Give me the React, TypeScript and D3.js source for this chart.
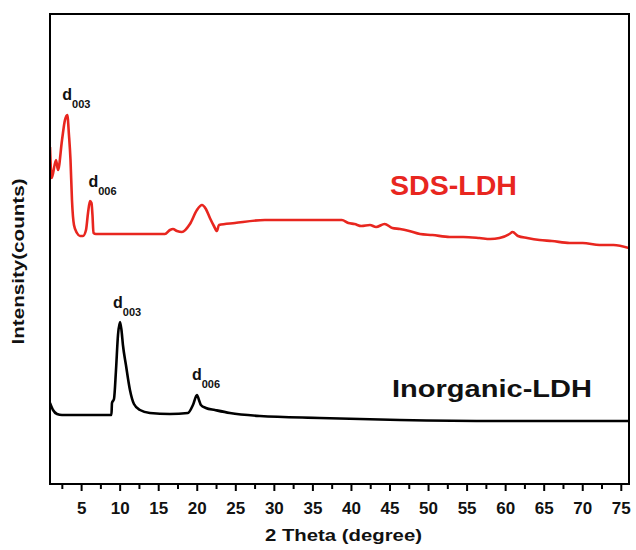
import React from "react";
import * as d3 from "d3";

// 2θ (degree) and intensity (a.u.) for the SDS-LDH pattern
const sdsTheta = [0.9, 1.12, 1.68, 1.94, 2.46, 2.84, 3.14, 3.36, 3.56, 3.75, 4.01, 4.4, 4.79, 5.18, 5.57, 5.83, 6.09, 6.28, 6.41, 6.54, 6.86, 9.0, 11.27, 13.5, 15.8, 16.46, 16.85, 17.37, 18.01, 19.05, 19.96, 20.61, 21.12, 21.64, 22.16, 22.55, 22.81, 24.88, 28.77, 33.3, 38.75, 39.6, 40.4, 41.3, 42.4, 43.2, 44.3, 45.3, 46.3, 47.5, 48.9, 50.5, 52.75, 54.5, 56.6, 58.0, 59.2, 60.5, 60.9, 61.6, 62.8, 64.4, 66.0, 68.3, 70.0, 72.2, 74.0, 76.0];
const sdsIntensity = [337, 306, 324, 314, 344, 364, 369, 349, 324, 284, 259, 251, 248, 248, 254, 271, 283, 281, 269, 251, 250, 250, 250, 250, 250, 254, 255, 253, 252, 260, 274, 279, 275, 266, 258, 253, 259, 261, 264, 264, 264, 261, 260, 258, 259, 257, 260, 256, 255, 253, 250, 249, 247, 247, 246, 245, 246, 250, 252, 248, 246, 244, 243, 241, 241, 239, 239, 236];

// 2θ (degree) and intensity (a.u.) for the Inorganic-LDH pattern
const inoTheta = [0.9, 1.29, 1.81, 2.46, 5.0, 8.87, 8.94, 9.2, 9.46, 9.72, 9.98, 10.17, 10.36, 10.75, 11.27, 11.79, 12.57, 13.86, 16.46, 18.79, 19.44, 19.96, 20.22, 20.47, 21.12, 22.29, 24.23, 28.12, 35.9, 46.27, 59.2, 76.0];
const inoIntensity = [81, 74, 70, 69, 69, 69, 81, 85, 114, 149, 162, 154, 139, 119, 94, 80, 74, 71, 70, 71, 79, 89, 84, 79, 76, 74, 71, 68, 66, 64, 63, 63];

const majorTicks = [5, 10, 15, 20, 25, 30, 35, 40, 45, 50, 55, 60, 65, 70, 75];
const minorTicks = [2.5, 7.5, 12.5, 17.5, 22.5, 27.5, 32.5, 37.5, 42.5, 47.5, 52.5, 57.5, 62.5, 67.5, 72.5];

// peak annotations: series, peak position (2θ), peak intensity, label subscript
const peakSeries = ["sds", "sds", "ino", "ino"];
const peakTheta = [3.14, 6.28, 9.98, 19.96];
const peakIntensity = [369, 283, 162, 89];
const peakSub = ["003", "006", "003", "006"];

const W = 636;
const H = 550;
const M = { left: 50, right: 629, top: 14, bottom: 484 };
const RED = "#e8261f";
const FONT = "'Liberation Sans', Arial, Helvetica, sans-serif";

export default function App() {
  const x = d3.scaleLinear().domain([0.9, 76]).range([M.left, M.right]);
  const y = d3.scaleLinear().domain([0, 470]).range([M.bottom, M.top]);

  const line = d3
    .line<[number, number]>()
    .x((d) => x(d[0]))
    .y((d) => y(d[1]))
    .curve(d3.curveMonotoneX);

  const sdsPts: [number, number][] = sdsTheta.map((t, i) => [t, sdsIntensity[i]]);
  const inoPts: [number, number][] = inoTheta.map((t, i) => [t, inoIntensity[i]]);

  const labelOffsets = [
    { dx: -5, dy: -15 },
    { dx: -3, dy: -14 },
    { dx: -7, dy: -14 },
    { dx: -5, dy: -15 },
  ];

  return (
    <svg
      width={W}
      height={H}
      style={{ position: "absolute", left: 0, top: 0, background: "#fff" }}
      fontFamily={FONT}
    >
      <rect x={0} y={0} width={W} height={H} fill="#fff" />
      <defs>
        <clipPath id="plotClip">
          <rect x={M.left} y={M.top} width={M.right - M.left} height={M.bottom - M.top} />
        </clipPath>
      </defs>

      <g clipPath="url(#plotClip)">
        <path d={line(sdsPts) || ""} fill="none" stroke={RED} strokeWidth={2.6} strokeLinejoin="round" />
        <path d={line(inoPts) || ""} fill="none" stroke="#000" strokeWidth={2.6} strokeLinejoin="round" />
      </g>

      {/* frame */}
      <rect
        x={M.left}
        y={M.top}
        width={M.right - M.left}
        height={M.bottom - M.top}
        fill="none"
        stroke="#000"
        strokeWidth={2}
      />

      {/* ticks */}
      {majorTicks.map((t) => (
        <line key={"M" + t} x1={x(t)} x2={x(t)} y1={M.bottom} y2={M.bottom + 7} stroke="#000" strokeWidth={2} />
      ))}
      {minorTicks.map((t) => (
        <line key={"m" + t} x1={x(t)} x2={x(t)} y1={M.bottom} y2={M.bottom + 5} stroke="#000" strokeWidth={2} />
      ))}
      {majorTicks.map((t) => (
        <text key={"L" + t} x={x(t)} y={513.5} textAnchor="middle" fontSize={17} fontWeight="bold" fill="#111">
          {t}
        </text>
      ))}

      {/* axis titles */}
      <text x={343.5} y={541} textAnchor="middle" fontSize={17} fontWeight="bold" fill="#111" textLength={157} lengthAdjust="spacingAndGlyphs">
        2 Theta (degree)
      </text>
      <text
        transform={`translate(23.5,261.5) rotate(-90)`}
        textAnchor="middle"
        fontSize={16}
        fontWeight="bold"
        fill="#111"
        textLength={166}
        lengthAdjust="spacingAndGlyphs"
      >
        Intensity(counts)
      </text>

      {/* series labels */}
      <text x={390} y={195} fontSize={27} fontWeight="bold" fill={RED} textLength={127} lengthAdjust="spacingAndGlyphs">
        SDS-LDH
      </text>
      <text x={392} y={396.5} fontSize={23} fontWeight="bold" fill="#111" textLength={200} lengthAdjust="spacingAndGlyphs">
        Inorganic-LDH
      </text>

      {/* peak annotations */}
      {peakTheta.map((t, i) => (
        <text
          key={"p" + i}
          x={x(t) + labelOffsets[i].dx}
          y={y(peakIntensity[i]) + labelOffsets[i].dy}
          fontSize={16}
          fontWeight="bold"
          fill="#111"
          data-series={peakSeries[i]}
        >
          d
          <tspan fontSize={11} dy={8}>
            {peakSub[i]}
          </tspan>
        </text>
      ))}
    </svg>
  );
}
